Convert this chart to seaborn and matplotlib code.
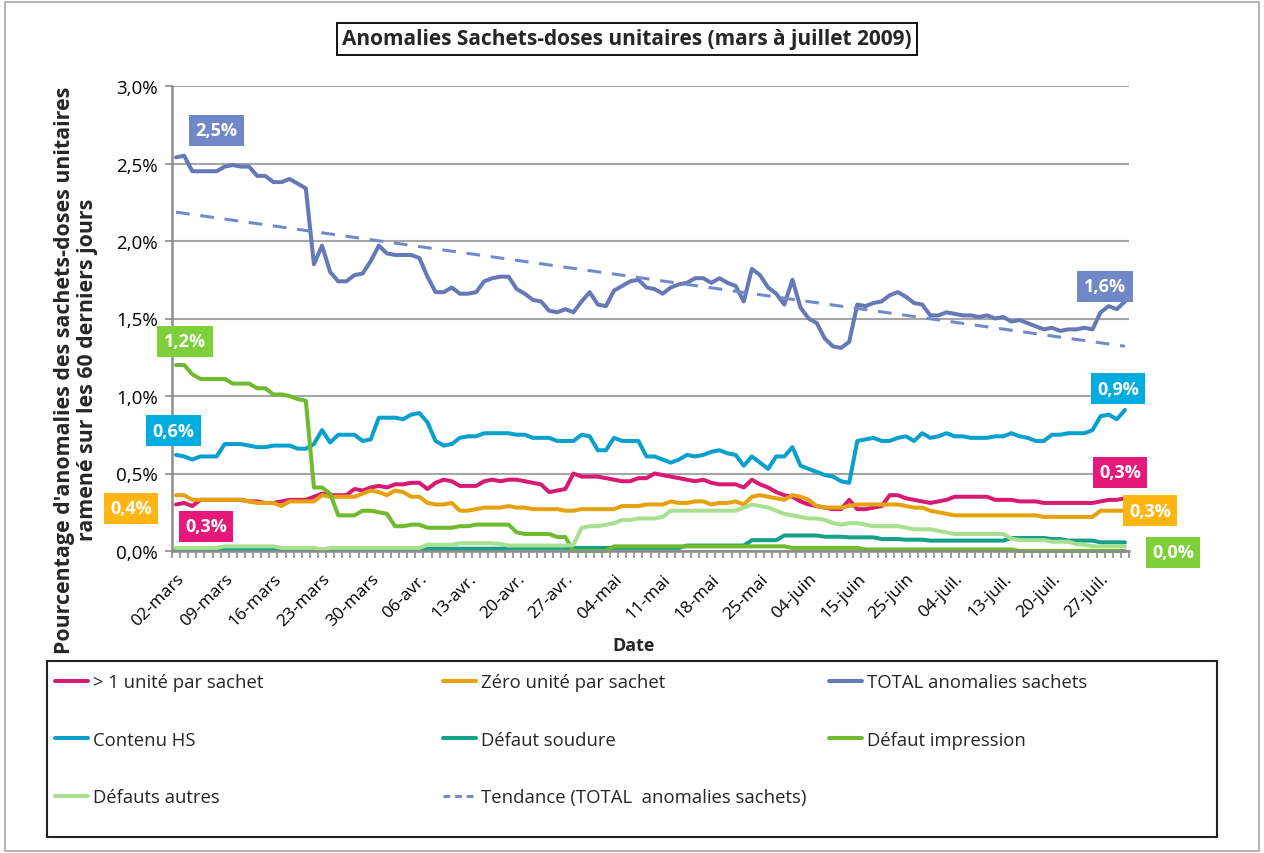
import numpy as np
import pandas as pd
import matplotlib
matplotlib.use("Agg")
import matplotlib.pyplot as plt
from matplotlib.patches import Rectangle
from matplotlib.lines import Line2D
from matplotlib.ticker import FuncFormatter, MultipleLocator, FixedLocator
import seaborn as sns

sns.set_theme(style="white")
plt.rcParams["font.family"] = ["Open Sans", "DejaVu Sans"]

# ---------------------------------------------------------------------------
# Calendrier des relevés : lundi au samedi, hors jours sans relevé
# ---------------------------------------------------------------------------
jours_sans_releve = [
    "2009-05-29", "2009-05-30", "2009-06-01",
    "2009-06-06", "2009-06-10", "2009-06-13",
    "2009-06-17", "2009-06-20", "2009-06-23",
    "2009-06-27", "2009-07-01", "2009-07-11",
]
dates = pd.bdate_range("2009-03-02", "2009-07-30", freq="C",
                       weekmask="Mon Tue Wed Thu Fri Sat",
                       holidays=jours_sans_releve)
mois_fr = {3: "mars", 4: "avr.", 5: "mai", 6: "juin", 7: "juil."}
etiquettes_dates = [f"{d.day:02d}-{mois_fr[d.month]}" for d in dates]
pas_etiquettes = 6

# ---------------------------------------------------------------------------
# Taux d'anomalies (%) ramenés sur les 60 derniers jours
# ---------------------------------------------------------------------------
plus_un_unite = [
    0.30, 0.31, 0.29, 0.33, 0.33, 0.33, 0.33, 0.33, 0.33, 0.32,
    0.32, 0.31, 0.31, 0.32, 0.33, 0.33, 0.33, 0.35, 0.37, 0.36,
    0.36, 0.36, 0.40, 0.39, 0.41, 0.42, 0.41, 0.43, 0.43, 0.44,
    0.44, 0.40, 0.44, 0.46, 0.45, 0.42, 0.42, 0.42, 0.45, 0.46,
    0.45, 0.46, 0.46, 0.45, 0.44, 0.43, 0.38, 0.39, 0.40, 0.50,
    0.48, 0.48, 0.48, 0.47, 0.46, 0.45, 0.45, 0.47, 0.47, 0.50,
    0.49, 0.48, 0.47, 0.46, 0.45, 0.46, 0.44, 0.43, 0.43, 0.43,
    0.41, 0.46, 0.43, 0.41, 0.38, 0.36, 0.35, 0.32, 0.30, 0.29,
    0.28, 0.27, 0.27, 0.33, 0.27, 0.27, 0.28, 0.29, 0.36, 0.36,
    0.34, 0.33, 0.32, 0.31, 0.32, 0.33, 0.35, 0.35, 0.35, 0.35,
    0.35, 0.33, 0.33, 0.33, 0.32, 0.32, 0.32, 0.31, 0.31, 0.31,
    0.31, 0.31, 0.31, 0.31, 0.32, 0.33, 0.33, 0.34,
]
zero_unite = [
    0.36, 0.36, 0.33, 0.33, 0.33, 0.33, 0.33, 0.33, 0.33, 0.32,
    0.31, 0.31, 0.31, 0.29, 0.32, 0.32, 0.32, 0.32, 0.36, 0.35,
    0.35, 0.35, 0.35, 0.37, 0.39, 0.38, 0.36, 0.39, 0.38, 0.35,
    0.35, 0.31, 0.30, 0.30, 0.31, 0.26, 0.26, 0.27, 0.28, 0.28,
    0.28, 0.29, 0.28, 0.28, 0.27, 0.27, 0.27, 0.27, 0.26, 0.26,
    0.27, 0.27, 0.27, 0.27, 0.27, 0.29, 0.29, 0.29, 0.30, 0.30,
    0.30, 0.32, 0.31, 0.31, 0.32, 0.32, 0.30, 0.31, 0.31, 0.32,
    0.30, 0.35, 0.36, 0.35, 0.34, 0.33, 0.36, 0.35, 0.33, 0.29,
    0.28, 0.28, 0.28, 0.29, 0.30, 0.30, 0.30, 0.30, 0.30, 0.30,
    0.29, 0.28, 0.28, 0.26, 0.25, 0.24, 0.23, 0.23, 0.23, 0.23,
    0.23, 0.23, 0.23, 0.23, 0.23, 0.23, 0.23, 0.22, 0.22, 0.22,
    0.22, 0.22, 0.22, 0.22, 0.26, 0.26, 0.26, 0.26,
]
total_anomalies = [
    2.54, 2.55, 2.45, 2.45, 2.45, 2.45, 2.48, 2.49, 2.48, 2.48,
    2.42, 2.42, 2.38, 2.38, 2.40, 2.37, 2.34, 1.85, 1.97, 1.80,
    1.74, 1.74, 1.78, 1.79, 1.87, 1.97, 1.92, 1.91, 1.91, 1.91,
    1.89, 1.77, 1.67, 1.67, 1.70, 1.66, 1.66, 1.67, 1.74, 1.76,
    1.77, 1.77, 1.69, 1.66, 1.62, 1.61, 1.55, 1.54, 1.56, 1.54,
    1.61, 1.67, 1.59, 1.58, 1.68, 1.71, 1.74, 1.75, 1.70, 1.69,
    1.66, 1.70, 1.72, 1.73, 1.76, 1.76, 1.73, 1.76, 1.73, 1.71,
    1.61, 1.82, 1.78, 1.70, 1.66, 1.59, 1.75, 1.57, 1.50, 1.47,
    1.37, 1.32, 1.31, 1.35, 1.59, 1.58, 1.60, 1.61, 1.65, 1.67,
    1.64, 1.60, 1.59, 1.52, 1.52, 1.54, 1.53, 1.52, 1.52, 1.51,
    1.52, 1.50, 1.51, 1.48, 1.49, 1.47, 1.45, 1.43, 1.44, 1.42,
    1.43, 1.43, 1.44, 1.43, 1.54, 1.58, 1.56, 1.61,
]
contenu_hs = [
    0.62, 0.61, 0.59, 0.61, 0.61, 0.61, 0.69, 0.69, 0.69, 0.68,
    0.67, 0.67, 0.68, 0.68, 0.68, 0.66, 0.66, 0.69, 0.78, 0.70,
    0.75, 0.75, 0.75, 0.71, 0.72, 0.86, 0.86, 0.86, 0.85, 0.88,
    0.89, 0.83, 0.71, 0.68, 0.69, 0.73, 0.74, 0.74, 0.76, 0.76,
    0.76, 0.76, 0.75, 0.75, 0.73, 0.73, 0.73, 0.71, 0.71, 0.71,
    0.75, 0.74, 0.65, 0.65, 0.73, 0.71, 0.71, 0.71, 0.61, 0.61,
    0.59, 0.57, 0.59, 0.62, 0.61, 0.62, 0.64, 0.65, 0.63, 0.62,
    0.55, 0.61, 0.57, 0.53, 0.61, 0.61, 0.67, 0.55, 0.53, 0.51,
    0.49, 0.48, 0.45, 0.44, 0.71, 0.72, 0.73, 0.71, 0.71, 0.73,
    0.74, 0.71, 0.76, 0.73, 0.74, 0.76, 0.74, 0.74, 0.73, 0.73,
    0.73, 0.74, 0.74, 0.76, 0.74, 0.73, 0.71, 0.71, 0.75, 0.75,
    0.76, 0.76, 0.76, 0.78, 0.87, 0.88, 0.85, 0.91,
]
defaut_soudure = [
    0.010, 0.010, 0.010, 0.010, 0.010, 0.010, 0.010, 0.010, 0.010, 0.010,
    0.010, 0.010, 0.010, 0.010, 0.010, 0.010, 0.010, 0.010, 0.010, 0.010,
    0.015, 0.015, 0.015, 0.015, 0.015, 0.015, 0.015, 0.015, 0.015, 0.015,
    0.015, 0.015, 0.015, 0.015, 0.015, 0.015, 0.015, 0.015, 0.015, 0.015,
    0.015, 0.020, 0.020, 0.020, 0.020, 0.020, 0.020, 0.020, 0.020, 0.020,
    0.020, 0.020, 0.020, 0.020, 0.020, 0.020, 0.020, 0.020, 0.020, 0.020,
    0.020, 0.020, 0.020, 0.035, 0.035, 0.035, 0.035, 0.035, 0.035, 0.035,
    0.035, 0.070, 0.070, 0.070, 0.070, 0.100, 0.100, 0.100, 0.100, 0.100,
    0.092, 0.092, 0.092, 0.088, 0.088, 0.088, 0.088, 0.077, 0.077, 0.077,
    0.073, 0.073, 0.073, 0.067, 0.067, 0.067, 0.067, 0.067, 0.067, 0.067,
    0.067, 0.067, 0.067, 0.084, 0.084, 0.084, 0.084, 0.084, 0.077, 0.077,
    0.067, 0.067, 0.067, 0.067, 0.056, 0.056, 0.056, 0.056,
]
defaut_impression = [
    1.20, 1.20, 1.14, 1.11, 1.11, 1.11, 1.11, 1.08, 1.08, 1.08,
    1.05, 1.05, 1.01, 1.01, 1.00, 0.98, 0.97, 0.41, 0.41, 0.37,
    0.23, 0.23, 0.23, 0.26, 0.26, 0.25, 0.24, 0.16, 0.16, 0.17,
    0.17, 0.15, 0.15, 0.15, 0.15, 0.16, 0.16, 0.17, 0.17, 0.17,
    0.17, 0.17, 0.12, 0.11, 0.11, 0.11, 0.11, 0.09, 0.09, 0.00,
    0.00, 0.00, 0.00, 0.00, 0.03, 0.03, 0.03, 0.03, 0.03, 0.03,
    0.03, 0.03, 0.03, 0.03, 0.03, 0.03, 0.03, 0.03, 0.03, 0.03,
    0.03, 0.03, 0.03, 0.03, 0.03, 0.03, 0.02, 0.02, 0.02, 0.02,
    0.02, 0.02, 0.02, 0.02, 0.02, 0.01, 0.01, 0.01, 0.01, 0.01,
    0.01, 0.01, 0.01, 0.01, 0.01, 0.01, 0.01, 0.01, 0.01, 0.01,
    0.01, 0.01, 0.01, 0.01, 0.00, 0.00, 0.00, 0.00, 0.00, 0.00,
    0.00, 0.00, 0.00, 0.00, 0.00, 0.00, 0.00, 0.00,
]
defauts_autres = [
    0.020, 0.020, 0.020, 0.020, 0.020, 0.020, 0.030, 0.030, 0.030, 0.030,
    0.030, 0.030, 0.030, 0.020, 0.020, 0.020, 0.020, 0.020, 0.010, 0.020,
    0.020, 0.020, 0.020, 0.020, 0.020, 0.020, 0.020, 0.020, 0.020, 0.020,
    0.020, 0.040, 0.040, 0.040, 0.040, 0.050, 0.050, 0.050, 0.050, 0.050,
    0.045, 0.035, 0.035, 0.035, 0.035, 0.035, 0.035, 0.035, 0.035, 0.040,
    0.150, 0.160, 0.160, 0.170, 0.180, 0.200, 0.200, 0.210, 0.210, 0.210,
    0.220, 0.260, 0.260, 0.260, 0.260, 0.260, 0.260, 0.260, 0.260, 0.260,
    0.280, 0.300, 0.290, 0.280, 0.260, 0.240, 0.230, 0.220, 0.210, 0.210,
    0.200, 0.180, 0.170, 0.180, 0.180, 0.170, 0.160, 0.160, 0.160, 0.160,
    0.150, 0.140, 0.140, 0.140, 0.130, 0.120, 0.110, 0.110, 0.110, 0.110,
    0.110, 0.110, 0.110, 0.080, 0.070, 0.070, 0.070, 0.070, 0.060, 0.060,
    0.060, 0.045, 0.040, 0.030, 0.030, 0.030, 0.030, 0.030,
]

noms_series = [
    "> 1 unité par sachet", "Zéro unité par sachet", "TOTAL anomalies sachets",
    "Contenu HS", "Défaut soudure", "Défaut impression", "Défauts autres",
]
valeurs_series = [
    plus_un_unite, zero_unite, total_anomalies, contenu_hs,
    defaut_soudure, defaut_impression, defauts_autres,
]
nom_tendance = "Tendance (TOTAL  anomalies sachets)"

couleurs = {
    "> 1 unité par sachet": "#D81B72",
    "Zéro unité par sachet": "#E6A20C",
    "TOTAL anomalies sachets": "#6579B6",
    "Contenu HS": "#0AA0CE",
    "Défaut soudure": "#17A088",
    "Défaut impression": "#70BA30",
    "Défauts autres": "#A8DF90",
}
couleur_tendance = "#7389CB"
couleurs_etiquettes = {
    "> 1 unité par sachet": "#E6197B",
    "Zéro unité par sachet": "#FFB612",
    "TOTAL anomalies sachets": "#7088C6",
    "Contenu HS": "#00ADDE",
    "Défaut impression": "#7ED03A",
}

rang = np.arange(len(dates))
df = pd.concat(
    [pd.DataFrame({"rang": rang, "date": etiquettes_dates,
                   "valeur": v, "serie": n})
     for n, v in zip(noms_series, valeurs_series)],
    ignore_index=True,
)

# ---------------------------------------------------------------------------
# Figure
# ---------------------------------------------------------------------------
W, H = 1264, 854
fig = plt.figure(figsize=(W / 100, H / 100), dpi=100)
fig.patch.set_facecolor("white")
ax = fig.add_axes([172 / W, 1 - 552 / H, (1129 - 172) / W, (552 - 87) / H])

sns.lineplot(data=df, x="rang", y="valeur", hue="serie", hue_order=noms_series,
             palette=couleurs, linewidth=2.9, estimator=None, sort=False,
             legend=False, ax=ax)
for ln in ax.lines:
    ln.set_clip_on(False)
    ln.set_solid_joinstyle("round")

# Tendance linéaire du total
sns.regplot(x=rang, y=np.array(total_anomalies), scatter=False, ci=None,
            truncate=True, ax=ax,
            line_kws=dict(color=couleur_tendance, linewidth=2.2,
                          linestyle=(0, (4.5, 3.5))))

ax.set_xlim(-0.5, len(dates) - 0.5)
ax.set_ylim(0, 3.0)
ax.yaxis.set_major_locator(MultipleLocator(0.5))
ax.yaxis.set_major_formatter(
    FuncFormatter(lambda v, p: f"{v:.1f}".replace(".", ",") + "%"))
ax.grid(axis="y", color="#A6A6A6", linewidth=1.5)
ax.grid(axis="x", visible=False)
ax.set_axisbelow(True)

ax.xaxis.set_major_locator(FixedLocator(rang[::pas_etiquettes]))
ax.set_xticklabels(etiquettes_dates[::pas_etiquettes], rotation=45,
                   ha="right", rotation_mode="anchor", fontsize=12.5)
ax.xaxis.set_minor_locator(FixedLocator(np.arange(-0.5, len(dates), 1.0)))
ax.tick_params(axis="x", which="major", length=0, pad=14, labelcolor="black")
ax.tick_params(axis="x", which="minor", length=5, width=1.2,
               color="#8C8C8C", direction="out", bottom=True)
ax.tick_params(axis="y", which="major", length=5, width=1.2,
               color="#8C8C8C", direction="out", left=True, pad=5,
               labelsize=13.5, labelcolor="black")
for s in ("top", "right"):
    ax.spines[s].set_visible(False)
for s in ("left", "bottom"):
    ax.spines[s].set_color("#8C8C8C")
    ax.spines[s].set_linewidth(1.8)
ax.set_xlabel("")
ax.set_ylabel("")


def fmt_pct(v):
    return f"{v:.1f}".replace(".", ",") + "%"


def etiquette(nom, i, dx, dy):
    v = valeurs_series[noms_series.index(nom)][i]
    ax.annotate(fmt_pct(v), xy=(rang[i], v), xytext=(dx, dy),
                textcoords="offset pixels", ha="center", va="center",
                color="white", fontsize=13, fontweight="bold",
                annotation_clip=False, zorder=10,
                bbox=dict(boxstyle="square,pad=0.36",
                          fc=couleurs_etiquettes[nom], ec="none"))


dernier = len(dates) - 1
etiquette("TOTAL anomalies sachets", 0, 40, 27)
etiquette("Défaut impression", 0, 9, 24)
etiquette("Contenu HS", 0, -3, 24)
etiquette("Zéro unité par sachet", 0, -45, -13)
etiquette("> 1 unité par sachet", 0, 30, -22)
etiquette("TOTAL anomalies sachets", dernier, -20, 15)
etiquette("Contenu HS", dernier, -7, 21)
etiquette("> 1 unité par sachet", dernier, -5, 26)
etiquette("Zéro unité par sachet", dernier, 25, 0)
etiquette("Défaut impression", dernier, 48, -1)

# Titres
fig.text(627 / W, 1 - 40 / H, "Anomalies Sachets-doses unitaires (mars à juillet 2009)",
         ha="center", va="center", fontsize=15, fontweight="bold",
         bbox=dict(boxstyle="square,pad=0.27", fc="white", ec="black", lw=1.3))
fig.text(76 / W, 1 - 370 / H,
         "Pourcentage d'anomalies des sachets-doses unitaires\n"
         "ramené sur les 60 derniers jours",
         ha="center", va="center", rotation=90, fontsize=15.4,
         fontweight="bold", linespacing=1.1)
fig.text(634 / W, 1 - 646 / H, "Date", ha="center", va="center",
         fontsize=13, fontweight="bold")

# Légende sur trois colonnes
def poignee(nom):
    if nom == nom_tendance:
        return Line2D([], [], color=couleur_tendance, lw=2.2,
                      linestyle=(0, (2.2, 1.6)))
    return Line2D([], [], color=couleurs[nom], lw=2.9)


colonnes = [
    ["> 1 unité par sachet", "Contenu HS", "Défauts autres"],
    ["Zéro unité par sachet", "Défaut soudure", nom_tendance],
    ["TOTAL anomalies sachets", "Défaut impression"],
]
x_colonnes = [55, 443, 829]
for noms, xc in zip(colonnes, x_colonnes):
    fig.legend([poignee(n) for n in noms], noms, loc="upper left",
               bbox_to_anchor=(xc / W, 1 - 674 / H),
               bbox_transform=fig.transFigure, frameon=False,
               borderaxespad=0, borderpad=0, handlelength=1.8,
               handletextpad=0.25, labelspacing=2.15, fontsize=13.3)

fig.add_artist(Rectangle((47 / W, 1 - 838 / H), 1170 / W, 176 / H,
                         transform=fig.transFigure, fill=False,
                         ec="#222222", lw=1.5))
fig.add_artist(Rectangle((5 / W, 2 / H), 1254 / W, 849 / H,
                         transform=fig.transFigure, fill=False,
                         ec="#A6A6A6", lw=1.2))

fig.savefig("out.png", dpi=100)
